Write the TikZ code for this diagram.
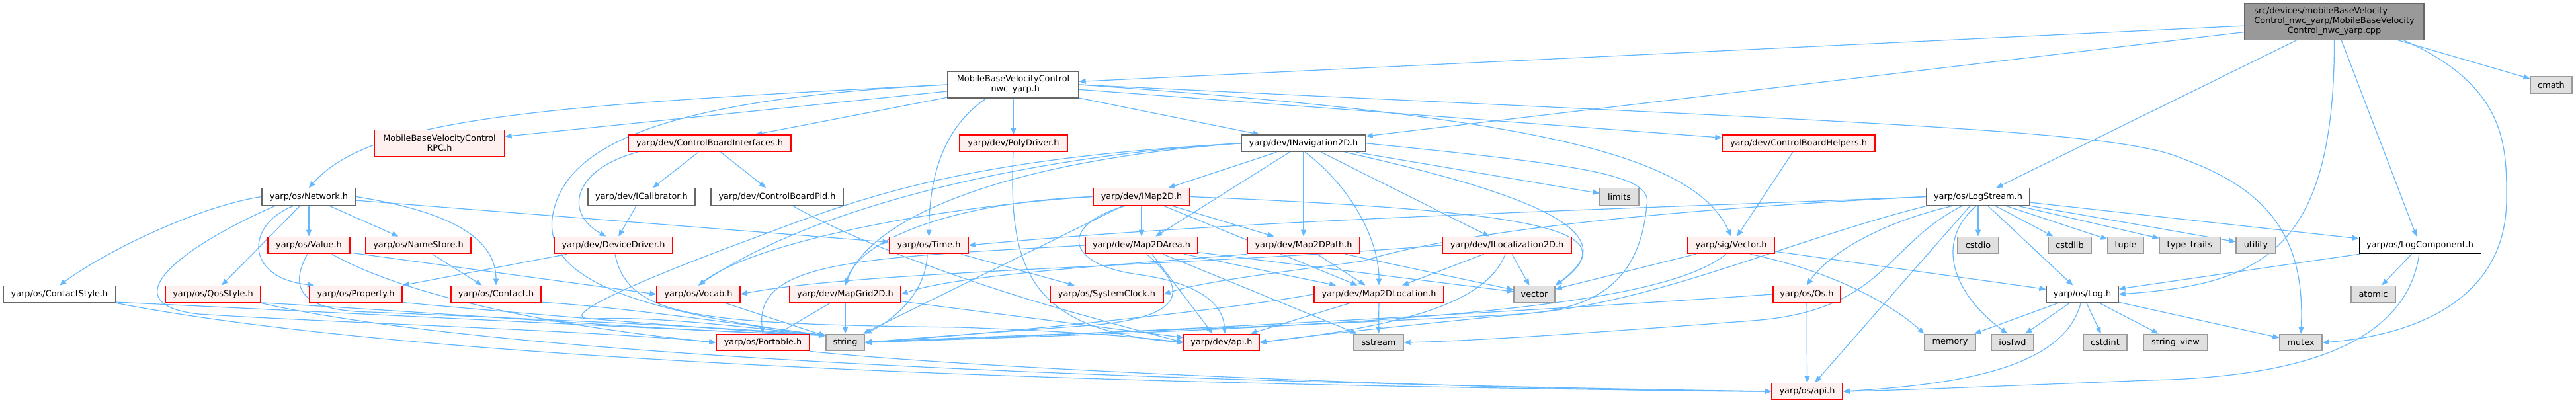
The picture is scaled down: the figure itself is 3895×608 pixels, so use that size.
\documentclass[tikz,border=0pt]{standalone}
\usepackage{fontspec}
\setmainfont{DejaVu Sans}
\usetikzlibrary{arrows.meta}
\definecolor{edgec}{HTML}{63B8FF}
\definecolor{truncfill}{HTML}{FFF0F0}
\definecolor{truncdraw}{HTML}{FF0000}
\definecolor{extfill}{HTML}{E0E0E0}
\definecolor{extdraw}{HTML}{999999}
\definecolor{plaindraw}{HTML}{666666}
\definecolor{mainfill}{HTML}{999999}
\pgfdeclarelayer{bg}
\pgfsetlayers{bg,main}
\newcommand{\gfont}{\fontsize{12.9}{14.8}\selectfont}
\tikzset{
  box/.style={draw, line width=1.3bp, minimum height=25.5bp, inner sep=0pt, font=\gfont, text=black, align=center},
  plainbox/.style={box, draw=plaindraw, fill=white},
  blackbox/.style={box, draw=black, line width=1bp, fill=white},
  truncbox/.style={box, draw=truncdraw, fill=truncfill},
  extbox/.style={box, draw=extdraw, fill=extfill},
  mainbox/.style={box, draw=plaindraw, fill=mainfill},
  dep/.style={draw=edgec, line width=1.2bp, -{Triangle[length=10bp,width=8bp]}},
}
\begin{document}
\begin{tikzpicture}[x=1bp,y=-1bp]
\path[use as bounding box] (0,0) rectangle (3895,608);
% row 0/1
\node[mainbox, minimum width=271bp, minimum height=55bp] (cpp) at (3529.5,32.7) {\begin{tabular}{@{}l@{}}src/devices/mobileBaseVelocity\\Control\_nwc\_yarp/MobileBaseVelocity\\\multicolumn{1}{@{}c@{}}{Control\_nwc\_yarp.cpp}\end{tabular}};
\node[extbox, minimum width=63bp] (cmath) at (3857.5,128.3) {cmath};
\node[plainbox, minimum width=198bp, minimum height=40bp] (nwc) at (1532,128) {MobileBaseVelocityControl\\\_nwc\_yarp.h};
% row 2
\node[truncbox, minimum width=197bp, minimum height=40bp] (RPC) at (664.5,216.5) {MobileBaseVelocityControl\\RPC.h};
\node[truncbox, minimum width=246bp] (CBI) at (1073,216.8) {yarp/dev/ControlBoardInterfaces.h};
\node[truncbox, minimum width=163bp] (PolyDriver) at (1532.5,216.8) {yarp/dev/PolyDriver.h};
\node[plainbox, minimum width=188bp] (INav) at (1971,216.8) {yarp/dev/INavigation2D.h};
\node[truncbox, minimum width=231bp] (CBHelpers) at (2719.5,216.8) {yarp/dev/ControlBoardHelpers.h};
% row 3
\node[plainbox, minimum width=142bp] (Network) at (467,297.5) {yarp/os/Network.h};
\node[plainbox, minimum width=162bp] (ICalibrator) at (970,297.5) {yarp/dev/ICalibrator.h};
\node[plainbox, minimum width=200bp] (CBPid) at (1175,297.5) {yarp/dev/ControlBoardPid.h};
\node[truncbox, minimum width=146bp] (IMap2D) at (1726,297.5) {yarp/dev/IMap2D.h};
\node[extbox, minimum width=59bp] (limits) at (2448.5,297.5) {limits};
\node[plainbox, minimum width=156bp] (LogStream) at (2991,297.5) {yarp/os/LogStream.h};
% row 4
\node[truncbox, minimum width=124bp] (Value) at (467,371) {yarp/os/Value.h};
\node[truncbox, minimum width=159bp] (NameStore) at (632.5,371) {yarp/os/NameStore.h};
\node[truncbox, minimum width=179bp] (DeviceDriver) at (927.5,371) {yarp/dev/DeviceDriver.h};
\node[truncbox, minimum width=119bp] (Time) at (1404.5,371) {yarp/os/Time.h};
\node[truncbox, minimum width=170bp] (Map2DArea) at (1726,371) {yarp/dev/Map2DArea.h};
\node[truncbox, minimum width=170bp] (Map2DPath) at (1971,371) {yarp/dev/Map2DPath.h};
\node[truncbox, minimum width=195bp] (ILoc) at (2278.5,371) {yarp/dev/ILocalization2D.h};
\node[truncbox, minimum width=131bp] (sigVector) at (2617.5,371) {yarp/sig/Vector.h};
\node[extbox, minimum width=62bp] (cstdio) at (2991,371) {cstdio};
\node[extbox, minimum width=65bp] (cstdlib) at (3129.5,371) {cstdlib};
\node[extbox, minimum width=54bp] (tuple) at (3214,371) {tuple};
\node[extbox, minimum width=92bp] (typetraits) at (3311,371) {type\_traits};
\node[extbox, minimum width=60bp] (utility) at (3411,371) {utility};
\node[blackbox, minimum width=184bp] (LogComponent) at (3659,371) {yarp/os/LogComponent.h};
% row 5
\node[plainbox, minimum width=170bp] (ContactStyle) at (90,445) {yarp/os/ContactStyle.h};
\node[truncbox, minimum width=144bp] (QosStyle) at (322,445) {yarp/os/QosStyle.h};
\node[truncbox, minimum width=140bp] (Property) at (538,445) {yarp/os/Property.h};
\node[truncbox, minimum width=136bp] (Contact) at (750,445) {yarp/os/Contact.h};
\node[truncbox, minimum width=126bp] (Vocab) at (1056,445) {yarp/os/Vocab.h};
\node[truncbox, minimum width=168bp] (MapGrid2D) at (1278,445) {yarp/dev/MapGrid2D.h};
\node[truncbox, minimum width=171bp] (SystemClock) at (1673.5,445) {yarp/os/SystemClock.h};
\node[truncbox, minimum width=196bp] (Map2DLocation) at (2085,445) {yarp/dev/Map2DLocation.h};
\node[extbox, minimum width=62bp] (vector) at (2320,445) {vector};
\node[truncbox, minimum width=102bp] (Os) at (2732,445) {yarp/os/Os.h};
\node[plainbox, minimum width=109bp] (Log) at (3148.5,445) {yarp/os/Log.h};
\node[extbox, minimum width=67bp] (atomic) at (3588.5,445) {atomic};
% row 6
\node[truncbox, minimum width=141bp] (Portable) at (1153.5,518) {yarp/os/Portable.h};
\node[extbox, minimum width=58bp] (string) at (1278,518) {string};
\node[truncbox, minimum width=114bp] (devapi) at (1847,518) {yarp/dev/api.h};
\node[extbox, minimum width=75bp] (sstream) at (2084.5,518) {sstream};
\node[extbox, minimum width=77bp] (memory) at (2948.5,518) {memory};
\node[extbox, minimum width=64bp] (iosfwd) at (3043,518) {iosfwd};
\node[extbox, minimum width=66bp] (cstdint) at (3183,518) {cstdint};
\node[extbox, minimum width=97bp] (stringview) at (3289.5,518) {string\_view};
\node[extbox, minimum width=64bp] (mutex) at (3479,518) {mutex};
% row 7
\node[truncbox, minimum width=107bp] (osapi) at (2732.5,592) {yarp/os/api.h};

\begin{pgfonlayer}{bg}
\fill[white] (0,0) rectangle (3895,608);
% cpp
\draw[dep] (cpp) -- (nwc);
\draw[dep] (cpp) -- (INav);
\draw[dep] (cpp) -- (LogStream);
\draw[dep] (cpp.south) .. controls (3530,380) and (3420,430) .. (Log.east);
\draw[dep] (cpp) -- (LogComponent);
\draw[dep] (cpp.-15) .. controls (3790,130) and (3790,220) .. (3790,300) .. controls (3790,470) and (3620,510) .. (mutex.east);
\draw[dep] (cpp) -- (cmath);
% nwc
\draw[dep] (nwc.west) .. controls (800,160) and (560,180) .. (Network.north);
\draw[dep] (nwc) -- (RPC);
\draw[dep] (nwc) -- (CBI);
\draw[dep] (nwc) -- (PolyDriver);
\draw[dep] (nwc) -- (INav);
\draw[dep] (nwc) -- (CBHelpers);
\draw[dep] (nwc.east) .. controls (2300,175) and (2560,230) .. (sigVector.north);
\draw[dep] (nwc.east) .. controls (2800,185) and (3200,195) .. (3300,240) .. controls (3440,290) and (3485,370) .. (mutex.north);
\draw[dep] (nwc.-153) .. controls (1430,190) and (1405,260) .. (Time.north);
\draw[dep] (nwc.west) .. controls (1000,150) and (850,220) .. (835,330) .. controls (825,420) and (950,470) .. (string.160);
% CBI
\draw[dep] (CBI.-173) .. controls (870,255) and (850,320) .. (DeviceDriver.130);
\draw[dep] (CBI) -- (ICalibrator);
\draw[dep] (CBI) -- (CBPid);
\draw[dep] (ICalibrator) -- (DeviceDriver);
\draw[dep] (CBPid) .. controls (1300,370) and (1500,440) .. (1650,480) .. controls (1720,500) and (1760,510) .. (devapi.west);
\draw[dep] (PolyDriver) .. controls (1525,400) and (1550,500) .. (devapi.west);
\draw[dep] (DeviceDriver) -- (Property);
\draw[dep] (DeviceDriver.-80) .. controls (950,480) and (1050,490) .. (1450,495) .. controls (1650,502) and (1740,512) .. (devapi.west);
% Network
\draw[dep] (Network.west) .. controls (300,312) and (160,380) .. (ContactStyle.north);
\draw[dep] (Network) -- (QosStyle);
\draw[dep] (Network.-149) .. controls (370,340) and (370,420) .. (Property.168);
\draw[dep] (Network) -- (Value);
\draw[dep] (Network) -- (NameStore);
\draw[dep] (Network.east) .. controls (680,320) and (750,360) .. (Contact.north);
\draw[dep] (Network) -- (Time);
\draw[dep] (Network.-165) .. controls (260,380) and (170,460) .. (300,475) .. controls (500,488) and (900,500) .. (Portable.west);
% Value, NameStore
\draw[dep] (Value.-10) -- (Vocab.west);
\draw[dep] (Value.-21) .. controls (600,440) and (800,490) .. (Portable.west);
\draw[dep] (Value.-100) .. controls (440,430) and (445,470) .. (560,472) .. controls (800,482) and (1100,495) .. (string.160);
\draw[dep] (NameStore) -- (Contact);
% row 5 left group
\draw[dep] (ContactStyle.-8) .. controls (500,472) and (1000,498) .. (string.160);
\draw[dep] (ContactStyle.south east) .. controls (700,560) and (1900,585) .. (osapi.west);
\draw[dep] (QosStyle.-10) .. controls (700,475) and (1000,500) .. (string.160);
\draw[dep] (QosStyle.south east) .. controls (800,550) and (1900,580) .. (osapi.west);
\draw[dep] (Property.-10) .. controls (800,475) and (1100,500) .. (string.160);
\draw[dep] (Contact.-10) .. controls (950,465) and (1150,495) .. (string.160);
\draw[dep] (Portable.south east) .. controls (1500,560) and (2300,592) .. (osapi.west);
\draw[dep] (Vocab) -- (string);
\draw[dep] (MapGrid2D) -- (Portable);
\draw[dep] (MapGrid2D) -- (string);
\draw[dep] (MapGrid2D) -- (devapi);
\draw[dep] (Time) -- (SystemClock);
\draw[dep] (Time.-100) .. controls (1400,450) and (1340,490) .. (string.north east);
% INav
\draw[dep] (INav) -- (IMap2D);
\draw[dep] (INav) -- (Map2DArea);
\draw[dep] (INav) -- (Map2DPath);
\draw[dep] (INav.-80) .. controls (2040,280) and (2085,360) .. (Map2DLocation.north);
\draw[dep] (INav) -- (ILoc);
\draw[dep] (INav) -- (limits);
\draw[dep] (INav.-12) .. controls (2300,290) and (2470,350) .. (vector.north east);
\draw[dep] (INav.east) .. controls (2400,250) and (2500,265) .. (2490,310) .. controls (2480,420) and (2420,460) .. (2330,472) .. controls (2150,490) and (2000,505) .. (devapi.east);
\draw[dep] (INav.west) .. controls (1600,232) and (1250,300) .. (Vocab.north);
\draw[dep] (INav.west) .. controls (1550,240) and (1320,320) .. (MapGrid2D.north);
\draw[dep] (INav.west) .. controls (1450,240) and (1300,300) .. (1140,360) .. controls (950,430) and (830,485) .. (900,482) .. controls (1000,478) and (1150,498) .. (string.160);
% IMap2D
\draw[dep] (IMap2D) -- (Map2DArea);
\draw[dep] (IMap2D) -- (Map2DPath);
\draw[dep] (IMap2D) -- (Map2DLocation);
\draw[dep] (IMap2D) -- (string);
\draw[dep] (IMap2D.-150) .. controls (1600,340) and (1610,400) .. (1720,415) .. controls (1830,430) and (1850,470) .. (devapi.70);
\draw[dep] (IMap2D.west) .. controls (1450,310) and (1150,360) .. (Vocab.north);
\draw[dep] (IMap2D.west) .. controls (1450,305) and (1300,360) .. (MapGrid2D.north);
\draw[dep] (IMap2D.east) .. controls (2350,320) and (2460,350) .. (vector.north east);
% Map2DArea
\draw[dep] (Map2DArea) -- (Map2DLocation);
\draw[dep] (Map2DArea.-40) -- (devapi.135);
\draw[dep] (Map2DArea) -- (sstream);
\draw[dep] (Map2DArea) -- (vector);
\draw[dep] (Map2DArea.west) .. controls (1300,390) and (1140,395) .. (Portable.north);
\draw[dep] (Map2DArea.-60) .. controls (1800,440) and (1790,480) .. (1650,492) .. controls (1500,503) and (1400,510) .. (string.east);
% Map2DPath
\draw[dep] (Map2DPath) -- (Map2DLocation);
\draw[dep] (Map2DPath) -- (vector);
\draw[dep] (Map2DPath.south west) .. controls (1700,400) and (1450,415) .. (MapGrid2D.east);
% Map2DLocation
\draw[dep] (Map2DLocation) -- (sstream);
\draw[dep] (Map2DLocation) -- (devapi);
\draw[dep] (Map2DLocation.west) .. controls (1850,470) and (1500,505) .. (string.east);
% ILoc
\draw[dep] (ILoc) -- (Map2DLocation);
\draw[dep] (ILoc) -- (vector);
\draw[dep] (ILoc.-100) .. controls (2250,450) and (2150,490) .. (devapi.east);
\draw[dep] (ILoc.west) .. controls (1750,405) and (1300,410) .. (Vocab.east);
% sigVector, CBHelpers
\draw[dep] (sigVector) -- (vector);
\draw[dep] (sigVector) -- (Log);
\draw[dep] (sigVector.-25) .. controls (2770,410) and (2860,460) .. (memory.north west);
\draw[dep] (sigVector.-120) .. controls (2500,475) and (2000,495) .. (string.east);
\draw[dep] (CBHelpers) -- (sigVector);
% LogStream
\draw[dep] (LogStream) -- (cstdio);
\draw[dep] (LogStream) -- (cstdlib);
\draw[dep] (LogStream) -- (tuple);
\draw[dep] (LogStream) -- (typetraits);
\draw[dep] (LogStream) -- (utility);
\draw[dep] (LogStream) -- (LogComponent);
\draw[dep] (LogStream) -- (Log);
\draw[dep] (LogStream.-160) .. controls (2830,340) and (2760,390) .. (Os.north);
\draw[dep] (LogStream) -- (osapi);
\draw[dep] (LogStream.-100) .. controls (2920,370) and (2960,450) .. (iosfwd.120);
\draw[dep] (LogStream.west) .. controls (2500,315) and (1900,330) .. (Time.east);
\draw[dep] (LogStream.west) .. controls (2350,325) and (2140,370) .. (2060,395) .. controls (1950,410) and (1820,425) .. (SystemClock.east);
\draw[dep] (LogStream.-170) .. controls (2700,365) and (2500,460) .. (2300,475) .. controls (1900,497) and (1500,507) .. (string.east);
\draw[dep] (LogStream.-150) .. controls (2850,370) and (2850,470) .. (2650,485) .. controls (2450,500) and (2250,515) .. (sstream.east);
% Log
\draw[dep] (Log) -- (memory);
\draw[dep] (Log) -- (iosfwd);
\draw[dep] (Log) -- (cstdint);
\draw[dep] (Log) -- (stringview);
\draw[dep] (Log) -- (mutex);
\draw[dep] (Log.-100) .. controls (3120,560) and (2950,582) .. (osapi.east);
% Os
\draw[dep] (Os) -- (osapi);
\draw[dep] (Os.west) .. controls (2400,465) and (1800,500) .. (string.east);
% LogComponent
\draw[dep] (LogComponent) -- (atomic);
\draw[dep] (LogComponent) -- (Log);
\draw[dep] (LogComponent.-95) .. controls (3640,510) and (3500,570) .. (3250,575) .. controls (3000,585) and (2880,590) .. (osapi.east);
\end{pgfonlayer}
\end{tikzpicture}
\end{document}
